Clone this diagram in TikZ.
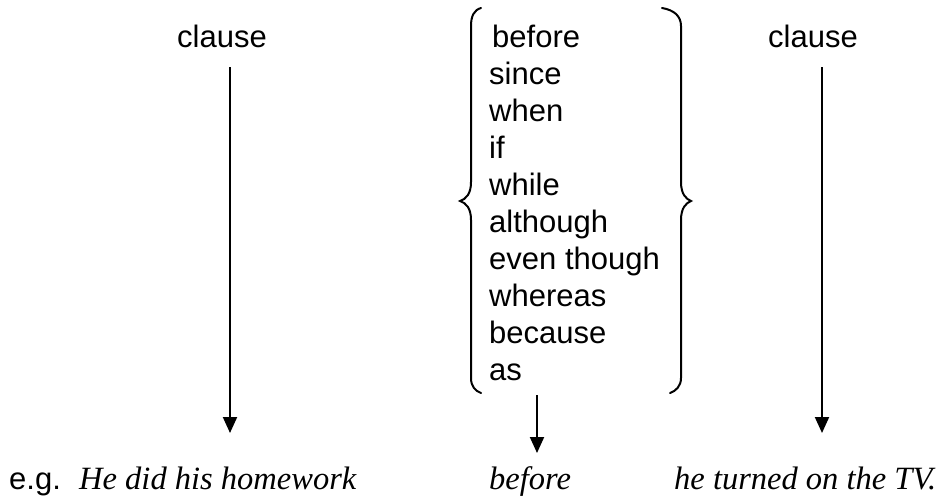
\documentclass[tikz,border=0pt]{standalone}
\usepackage{fontspec}
\setmainfont{Liberation Sans}
\newfontfamily\serifit{Liberation Serif}
\usetikzlibrary{arrows.meta}
\tikzset{
  word/.style={anchor=base west, inner sep=0pt, font=\fontsize{31}{37}\selectfont},
  ital/.style={anchor=base west, inner sep=0pt, font=\fontsize{32.5}{38}\serifit\itshape},
  arr/.style={line width=2pt, -{Triangle[length=16pt,width=14pt]}},
  brace/.style={line width=2pt, line cap=round},
}
\begin{document}
\begin{tikzpicture}[x=1pt,y=-1pt]
\useasboundingbox (0,0) rectangle (952,498);
% top clauses
\node[word] (clL) at (177,47) {clause};
\node[word] (clR) at (768,47) {clause};
% word list
\node[word] (w1) at (492,47) {before};
\node[word] (w2) at (489,84) {since};
\node[word] (w3) at (489,121) {when};
\node[word] (w4) at (489,158) {if};
\node[word] (w5) at (489,195) {while};
\node[word] (w6) at (489,232) {although};
\node[word] (w7) at (489,269) {even though};
\node[word] (w8) at (489,306) {whereas};
\node[word] (w9) at (489,343) {because};
\node[word] (w10) at (489,380) {as};
% braces
\draw[brace] (481,8) .. controls (474,10) and (471,16) .. (471,26) -- (471,182)
  .. controls (471,194) and (466,199) .. (460,201)
  .. controls (466,203) and (471,208) .. (471,220) -- (471,378)
  .. controls (471,386) and (475,391) .. (481,393);
\draw[brace] (662,8) .. controls (674,10) and (681,16) .. (681,26) -- (681,182)
  .. controls (681,194) and (686,199) .. (691,201)
  .. controls (686,203) and (681,208) .. (681,220) -- (681,378)
  .. controls (681,386) and (676,391) .. (670,393);
% bottom sentence
\node[word] (eg) at (9,489) {e.g.};
\node[ital] (s1) at (79,489) {He did his homework};
\node[ital] (s2) at (489,489) {before};
\node[ital] (s3) at (674,489) {he turned on the TV.};
% arrows
\coordinate (aL1) at (230,67);
\coordinate (aL2) at (230,433);
\coordinate (aR1) at (822,67);
\coordinate (aR2) at (822,433);
\coordinate (aM1) at (537,395);
\coordinate (aM2) at (537,453);
\draw[arr] (aL1) -- (aL2);
\draw[arr] (aR1) -- (aR2);
\draw[arr] (aM1) -- (aM2);
\end{tikzpicture}
\end{document}
